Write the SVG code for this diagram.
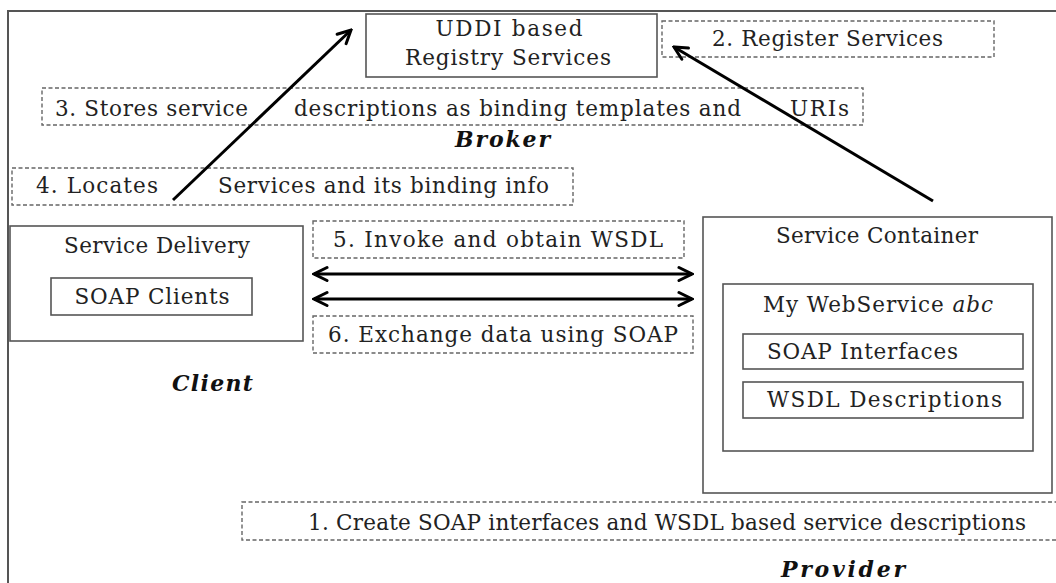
<svg xmlns="http://www.w3.org/2000/svg" width="1056" height="583" viewBox="0 0 1056 583">
  <style>
    .frame { fill: none; stroke: #555; stroke-width: 2; }
    .box { fill: #fff; stroke: #555; stroke-width: 1.6; }
    .dash { fill: #fff; stroke: #666; stroke-width: 1.4; stroke-dasharray: 4 2.5; }
    .t { font-family: "DejaVu Serif", "Liberation Serif", serif; font-size: 21.5px; fill: #222; }
    .role { font-family: "DejaVu Serif", "Liberation Serif", serif; font-size: 22px; font-weight: bold; font-style: italic; fill: #111; }
    .arrow { stroke: #000; stroke-width: 3; fill: none; }
  </style>
  <defs>
    <marker id="head" markerUnits="userSpaceOnUse" viewBox="0 0 18 18" refX="16" refY="9" markerWidth="18" markerHeight="18" orient="auto-start-reverse">
      <path d="M3,2.5 L16,9 L3,15.5" fill="none" stroke="#000" stroke-width="3" stroke-linecap="round" stroke-linejoin="miter"/>
    </marker>
  </defs>

  <rect width="1056" height="583" fill="#fff"/>
  <!-- outer frame, open to the right and bottom -->
  <path class="frame" d="M8,583 V11 H1056"/>

  <!-- Broker -->
  <g id="registry">
    <rect class="box" x="366" y="14" width="291" height="63"/>
    <text class="t" x="509" y="36" text-anchor="middle" textLength="147">UDDI based</text>
    <text class="t" x="508" y="65" text-anchor="middle" textLength="206">Registry Services</text>
  </g>
  <g id="step2">
    <rect class="dash" x="662" y="21" width="332" height="36"/>
    <text class="t" x="712" y="46" textLength="231">2. Register Services</text>
  </g>
  <g id="step3">
    <rect class="dash" x="42" y="88" width="821" height="37"/>
    <text class="t" x="55" y="116" textLength="193">3. Stores service</text>
    <text class="t" x="294" y="116" textLength="447">descriptions as binding templates and</text>
    <text class="t" x="790" y="116" textLength="59">URIs</text>
  </g>
  <text id="broker" class="role" x="455" y="147" textLength="95">Broker</text>
  <g id="step4">
    <rect class="dash" x="12" y="168" width="561" height="37"/>
    <text class="t" x="36" y="193" textLength="122">4. Locates</text>
    <text class="t" x="218" y="193" textLength="331">Services and its binding info</text>
  </g>

  <!-- Client -->
  <g id="client">
    <rect class="box" x="10" y="226" width="293" height="115"/>
    <text class="t" x="157" y="253" text-anchor="middle" textLength="186">Service Delivery</text>
    <rect class="box" x="51" y="278" width="201" height="37"/>
    <text class="t" x="152" y="304" text-anchor="middle" textLength="155">SOAP Clients</text>
  </g>
  <text id="client-label" class="role" x="172" y="391" textLength="81">Client</text>

  <g id="step5">
    <rect class="dash" x="313" y="221" width="371" height="37"/>
    <text class="t" x="333" y="247" textLength="330">5. Invoke and obtain WSDL</text>
  </g>
  <g id="step6">
    <rect class="dash" x="313" y="316" width="380" height="37"/>
    <text class="t" x="328" y="342" textLength="350">6. Exchange data using SOAP</text>
  </g>

  <!-- Provider -->
  <g id="container">
    <rect class="box" x="703" y="217" width="349" height="276"/>
    <text class="t" x="877" y="243" text-anchor="middle" textLength="202">Service Container</text>
  </g>
  <g id="webservice">
    <rect class="box" x="723" y="284" width="310" height="167"/>
    <text class="t" x="763" y="312" textLength="230">My WebService <tspan font-style="italic">abc</tspan></text>
  </g>
  <g id="soap-interfaces">
    <rect class="box" x="743" y="334" width="280" height="35"/>
    <text class="t" x="767" y="359" textLength="191">SOAP Interfaces</text>
  </g>
  <g id="wsdl-descriptions">
    <rect class="box" x="743" y="382" width="280" height="36"/>
    <text class="t" x="767" y="407" textLength="235">WSDL Descriptions</text>
  </g>
  <g id="step1">
    <rect class="dash" x="242" y="502" width="830" height="38"/>
    <text class="t" x="308" y="530" textLength="718">1. Create SOAP interfaces and WSDL based service descriptions</text>
  </g>
  <text id="provider" class="role" x="781" y="577" textLength="124">Provider</text>

  <!-- connectors -->
  <g id="connectors">
    <line class="arrow" x1="173" y1="200" x2="351" y2="30" marker-end="url(#head)"/>
    <line class="arrow" x1="933" y1="201" x2="674" y2="47" marker-end="url(#head)"/>
    <line class="arrow" x1="314" y1="274" x2="692" y2="274" marker-start="url(#head)" marker-end="url(#head)"/>
    <line class="arrow" x1="314" y1="299" x2="692" y2="299" marker-start="url(#head)" marker-end="url(#head)"/>
  </g>
</svg>
